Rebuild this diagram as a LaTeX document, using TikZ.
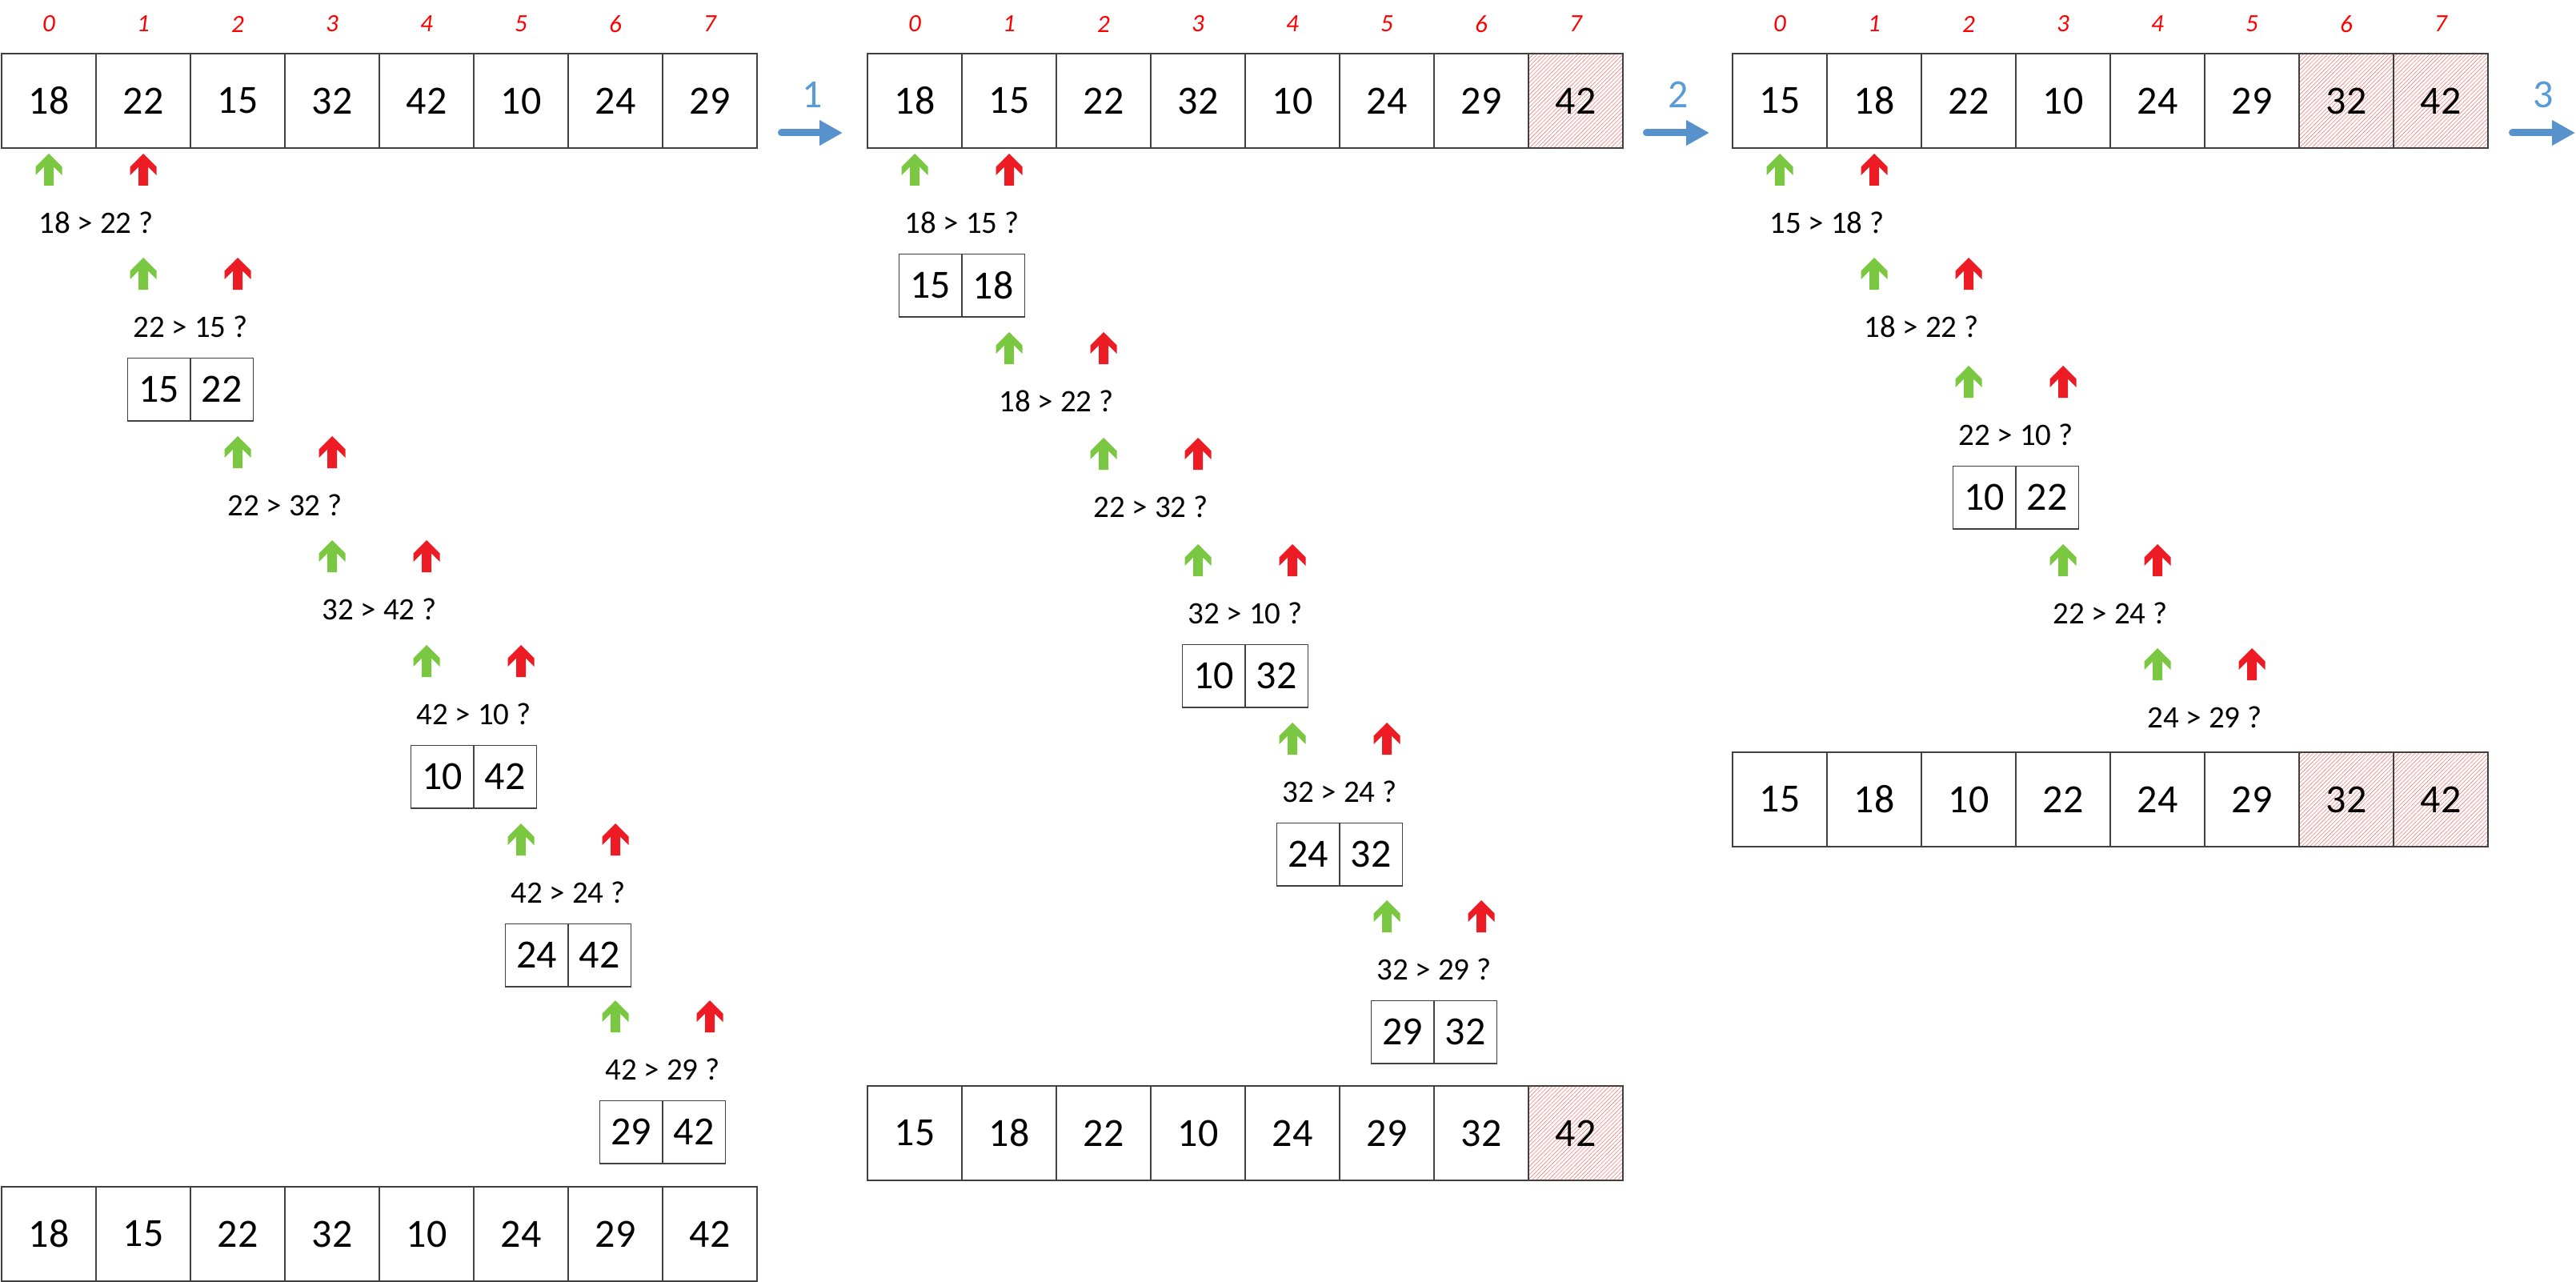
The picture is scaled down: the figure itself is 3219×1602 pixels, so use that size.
\documentclass[tikz,border=0pt]{standalone}
\usepackage{fontspec}
\setmainfont{Carlito}
\usetikzlibrary{arrows.meta,patterns.meta}
\definecolor{agreen}{RGB}{122,200,65}
\definecolor{ared}{RGB}{237,28,36}
\definecolor{idxred}{RGB}{255,0,0}
\definecolor{ablue}{RGB}{87,146,204}
\definecolor{lblue}{RGB}{91,155,213}
\definecolor{cellline}{RGB}{64,64,64}
\definecolor{hatchred}{RGB}{245,120,120}
\tikzset{
 cell/.style={draw=cellline, line width=1.6pt, minimum width=118pt, minimum height=118pt, inner sep=0pt, font=\fontsize{50}{60}\selectfont},
 hcell/.style={cell, pattern={Lines[angle=45,distance=3.6pt,line width=0.6pt]}, pattern color=hatchred},
 scell/.style={draw=cellline, line width=1.6pt, minimum width=78.5pt, minimum height=78.5pt, inner sep=0pt, font=\fontsize{50}{60}\selectfont},
 cmp/.style={inner sep=0pt, font=\fontsize{39}{47}\selectfont},
 idx/.style={inner sep=0pt, text=idxred, font=\fontsize{31}{37}\selectfont\itshape},
 passlabel/.style={inner sep=0pt, text=lblue, font=\fontsize{50}{60}\selectfont},
 passarrow/.style={draw=ablue, line width=9pt, line cap=round, -{Triangle[length=29pt,width=30pt]}},
 uparr/.pic={\fill[#1] (0,0) -- (16.5,16.5) -- (16.5,27) -- (6,16.5) -- (6,40) -- (-6,40) -- (-6,16.5) -- (-16.5,27) -- (-16.5,16.5) -- cycle;}
}
% #1 name, #2 x0, #3 ytop, #4 values, #5 first hatched index (8 = none)
\newcommand\cellrow[5]{%
  \foreach \v [count=\i from 0] in {#4} {%
    \ifnum\i<#5\relax
      \node[cell] (#1-\i) at ({#2+59+118*\i},{#3+59}) {\v};
    \else
      \node[hcell] (#1-\i) at ({#2+59+118*\i},{#3+59}) {\v};
    \fi
  }%
}
\newcommand\idxrow[2]{%
  \foreach \i in {0,...,7} {\node[idx] (#1-\i) at ({#2+59+118*\i},30) {\i};}%
}
% #1 prefix #2 x0 #3 i #4 ytop #5 text
\newcommand\cmpstep[5]{%
  \pic at ({#2+59+118*#3},#4) {uparr=agreen};
  \pic at ({#2+59+118*(#3+1)},#4) {uparr=ared};
  \node[cmp] (#1t#3) at ({#2+118*(#3+1)},{#4+86}) {#5};
}
% #1 prefix #2 x0 #3 i #4 ytop #5 a #6 b
\newcommand\swapbox[6]{%
  \node[scell] (#1l#3) at ({#2+118*(#3+1)-39.25},{#4+125.5+39.25}) {#5};
  \node[scell] (#1r#3) at ({#2+118*(#3+1)+39.25},{#4+125.5+39.25}) {#6};
}
\begin{document}
\begin{tikzpicture}[x=1pt,y=-1pt]
\useasboundingbox (0,0) rectangle (3219,1602);
% ---------- panel 1
\idxrow{p1i}{2}
\cellrow{p1a}{2}{67}{18,22,15,32,42,10,24,29}{8}
\cmpstep{p1}{2}{0}{192}{18 > 22 ?}
\cmpstep{p1}{2}{1}{322}{22 > 15 ?}
\swapbox{p1}{2}{1}{322}{15}{22}
\cmpstep{p1}{2}{2}{545}{22 > 32 ?}
\cmpstep{p1}{2}{3}{675}{32 > 42 ?}
\cmpstep{p1}{2}{4}{806}{42 > 10 ?}
\swapbox{p1}{2}{4}{806}{10}{42}
\cmpstep{p1}{2}{5}{1029}{42 > 24 ?}
\swapbox{p1}{2}{5}{1029}{24}{42}
\cmpstep{p1}{2}{6}{1250}{42 > 29 ?}
\swapbox{p1}{2}{6}{1250}{29}{42}
\cellrow{p1b}{2}{1483}{18,15,22,32,10,24,29,42}{8}
% ---------- panel 2
\idxrow{p2i}{1084}
\cellrow{p2a}{1084}{67}{18,15,22,32,10,24,29,42}{7}
\cmpstep{p2}{1084}{0}{192}{18 > 15 ?}
\swapbox{p2}{1084}{0}{192}{15}{18}
\cmpstep{p2}{1084}{1}{415}{18 > 22 ?}
\cmpstep{p2}{1084}{2}{547}{22 > 32 ?}
\cmpstep{p2}{1084}{3}{680}{32 > 10 ?}
\swapbox{p2}{1084}{3}{680}{10}{32}
\cmpstep{p2}{1084}{4}{903}{32 > 24 ?}
\swapbox{p2}{1084}{4}{903}{24}{32}
\cmpstep{p2}{1084}{5}{1125}{32 > 29 ?}
\swapbox{p2}{1084}{5}{1125}{29}{32}
\cellrow{p2b}{1084}{1357}{15,18,22,10,24,29,32,42}{7}
% ---------- panel 3
\idxrow{p3i}{2165}
\cellrow{p3a}{2165}{67}{15,18,22,10,24,29,32,42}{6}
\cmpstep{p3}{2165}{0}{192}{15 > 18 ?}
\cmpstep{p3}{2165}{1}{322}{18 > 22 ?}
\cmpstep{p3}{2165}{2}{457}{22 > 10 ?}
\swapbox{p3}{2165}{2}{457}{10}{22}
\cmpstep{p3}{2165}{3}{680}{22 > 24 ?}
\cmpstep{p3}{2165}{4}{810}{24 > 29 ?}
\cellrow{p3b}{2165}{940}{15,18,10,22,24,29,32,42}{6}
% ---------- pass arrows
\coordinate (s1) at (976.5,166); \coordinate (e1) at (1053,166);
\coordinate (s2) at (2057.5,166); \coordinate (e2) at (2136,166);
\coordinate (s3) at (3139.5,166); \coordinate (e3) at (3218,166);
\draw[passarrow] (s1) -- (e1);
\draw[passarrow] (s2) -- (e2);
\draw[passarrow] (s3) -- (e3);
\node[passlabel] (l1) at (1015,118) {1};
\node[passlabel] (l2) at (2097,118) {2};
\node[passlabel] (l3) at (3178,118) {3};
\end{tikzpicture}
\end{document}
